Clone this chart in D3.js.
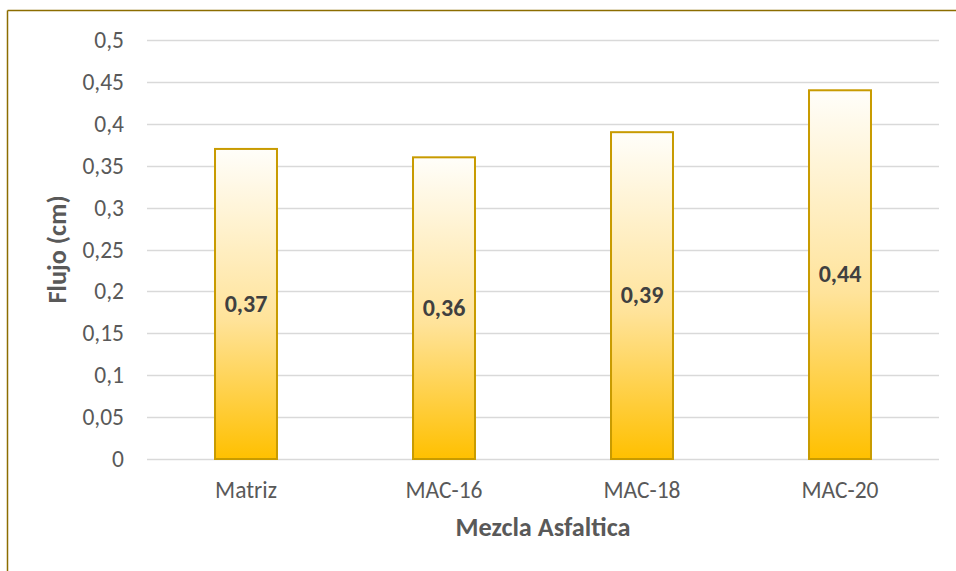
<!DOCTYPE html>
<html>
<head>
<meta charset="utf-8">
<script src="https://cdn.jsdelivr.net/npm/d3@7"></script>
<style>
  html, body { margin: 0; padding: 0; background: #fff; }
  svg { display: block; }
</style>
</head>
<body>
<svg id="chart" width="956" height="571"></svg>
<script>
// Flujo Marshall por tipo de mezcla
const categories = ["Matriz", "MAC-16", "MAC-18", "MAC-20"];
const flowValues = [0.37, 0.36, 0.39, 0.44];
const yTicks = [0, 0.05, 0.1, 0.15, 0.2, 0.25, 0.3, 0.35, 0.4, 0.45, 0.5];
const yTickLabels = ["0", "0,05", "0,1", "0,15", "0,2", "0,25", "0,3", "0,35", "0,4", "0,45", "0,5"];
const xTitle = "Mezcla Asfaltica";
const yTitle = "Flujo (cm)";

const svg = d3.select("#chart");
const fontFamily = "Carlito, Calibri, Lato, sans-serif";

// outer frame (top and left edges visible)
svg.append("line").attr("x1", 7.5).attr("x2", 956).attr("y1", 10.5).attr("y2", 10.5)
  .attr("stroke", "#8C6D00").attr("stroke-width", 1.5);
svg.append("line").attr("x1", 7.5).attr("x2", 7.5).attr("y1", 10.5).attr("y2", 571)
  .attr("stroke", "#8C6D00").attr("stroke-width", 1.5);

const plot = { left: 147, right: 939, top: 40, bottom: 459 };

const x = d3.scaleBand().domain(categories).range([plot.left, plot.right]).paddingInner(0.687).paddingOuter(0.3435);
const y = d3.scaleLinear().domain([0, 0.5]).range([plot.bottom, plot.top]);

// gradient for bar fill
const defs = svg.append("defs");
const grad = defs.append("linearGradient").attr("id", "barGrad")
  .attr("x1", 0).attr("y1", 1).attr("x2", 0).attr("y2", 0);
grad.append("stop").attr("offset", "0%").attr("stop-color", "#FFC000");
grad.append("stop").attr("offset", "45%").attr("stop-color", "#FFE39A");
grad.append("stop").attr("offset", "100%").attr("stop-color", "#FFFEFA");

// gridlines
svg.append("g").selectAll("line").data(yTicks).join("line")
  .attr("x1", plot.left).attr("x2", plot.right)
  .attr("y1", d => Math.round(y(d)) + 0.5).attr("y2", d => Math.round(y(d)) + 0.5)
  .attr("stroke", "#D9D9D9").attr("stroke-width", 1.5);

// y axis labels
const yAxis = d3.axisLeft(y).tickValues(yTicks).tickSize(0).tickPadding(0)
  .tickFormat((d, i) => yTickLabels[i]);
const yg = svg.append("g").attr("transform", `translate(${plot.left - 23},0)`).call(yAxis);
yg.select(".domain").remove();
yg.selectAll("text").attr("dy", "0.32em")
  .attr("font-family", fontFamily).attr("font-size", 23.5).attr("fill", "#595959");

// bars
svg.append("g").selectAll("rect").data(flowValues).join("rect")
  .attr("x", (d, i) => x(categories[i]))
  .attr("y", d => y(d))
  .attr("width", x.bandwidth())
  .attr("height", d => y(0) - y(d))
  .attr("fill", "url(#barGrad)")
  .attr("stroke", "#C89B00").attr("stroke-width", 2);

// value labels at bar mid-height
svg.append("g").selectAll("text").data(flowValues).join("text")
  .attr("x", (d, i) => x(categories[i]) + x.bandwidth() / 2)
  .attr("y", d => (y(d) + y(0)) / 2)
  .attr("dy", "0.32em")
  .attr("text-anchor", "middle")
  .attr("font-family", fontFamily).attr("font-weight", "bold").attr("font-size", 24)
  .attr("fill", "#404040")
  .text(d => String(d).replace(".", ","));

// x axis labels
const xAxis = d3.axisBottom(x).tickSize(0).tickPadding(0);
const xg = svg.append("g").attr("transform", `translate(0,${plot.bottom})`).call(xAxis);
xg.select(".domain").remove();
xg.selectAll("text").attr("y", 39).attr("dy", null)
  .attr("font-family", fontFamily).attr("font-size", 23.5).attr("fill", "#595959");

// axis titles
svg.append("text").attr("x", (plot.left + plot.right) / 2).attr("y", 536)
  .attr("text-anchor", "middle").attr("font-family", fontFamily)
  .attr("font-weight", "bold").attr("font-size", 26.3).attr("fill", "#595959")
  .text(xTitle);
svg.append("text").attr("transform", `translate(66,${(plot.top + plot.bottom) / 2}) rotate(-90)`)
  .attr("text-anchor", "middle").attr("font-family", fontFamily)
  .attr("font-weight", "bold").attr("font-size", 26.3).attr("fill", "#595959")
  .text(yTitle);
</script>
</body>
</html>
